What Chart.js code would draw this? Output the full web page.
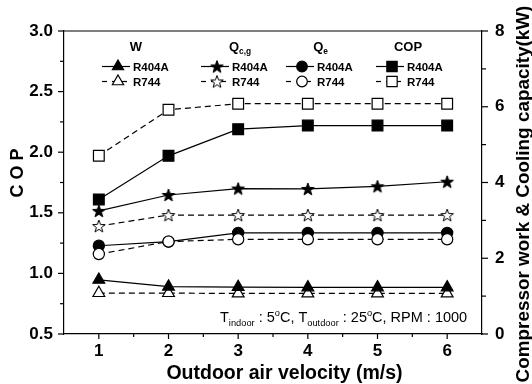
<!DOCTYPE html>
<html>
<head>
<meta charset="utf-8">
<script src="https://cdn.jsdelivr.net/npm/chart.js@4.4.0/dist/chart.umd.min.js"></script>
<style>
  html, body { margin: 0; padding: 0; background: #fff; }
  #chart { display: block; }
</style>
</head>
<body>
<canvas id="chart" width="532" height="384"></canvas>
<script>
// values (W, Qc,g, Qe on the kW axis, COP on the left axis)
const velocity = [1, 2, 3, 4, 5, 6]
const wR404A = [1.43, 1.25, 1.24, 1.23, 1.23, 1.23]
const wR744 = [1.08, 1.08, 1.07, 1.07, 1.07, 1.07]
const qcgR404A = [3.25, 3.67, 3.84, 3.83, 3.9, 4.02]
const qcgR744 = [2.85, 3.14, 3.14, 3.14, 3.14, 3.14]
const qeR404A = [2.33, 2.44, 2.67, 2.67, 2.67, 2.67]
const qeR744 = [2.11, 2.44, 2.5, 2.5, 2.5, 2.5]
const copR404A = [1.61, 1.97, 2.19, 2.22, 2.22, 2.22]
const copR744 = [1.97, 2.35, 2.4, 2.4, 2.4, 2.4]

const xTicks = [1, 2, 3, 4, 5, 6]
const copTicks = [0.5, 1.0, 1.5, 2.0, 2.5, 3.0]
const capTicks = [0, 2, 4, 6, 8]

const FONT = '"Liberation Sans", Arial, sans-serif'

const makeStar = (fill) => {
  const c = document.createElement('canvas')
  c.width = 16
  c.height = 16
  const g = c.getContext('2d')
  g.beginPath()
  for (let i = 0; i < 10; i++) {
    const r = i % 2 ? 2.7 : 6.6
    const a = -Math.PI / 2 + (i * Math.PI) / 5
    g.lineTo(8 + r * Math.cos(a), 8.6 + r * Math.sin(a))
  }
  g.closePath()
  g.fillStyle = fill
  g.fill()
  g.lineWidth = 1
  g.strokeStyle = '#000'
  g.stroke()
  return c
}
const starFilled = makeStar('#000')
const starOpen = makeStar('#fff')

const series = (label, values, axis, style, filled, radius) => ({
  label,
  data: velocity.map((v, i) => ({ x: v, y: values[i] })),
  yAxisID: axis,
  borderColor: '#000',
  borderWidth: 1.2,
  borderDash: filled ? [] : [6, 4],
  pointStyle: style,
  pointRadius: radius,
  pointBackgroundColor: filled ? '#000' : '#fff',
  pointBorderColor: '#000',
  pointBorderWidth: 1.2,
  tension: 0,
  fill: false,
})

const datasets = [
  series('W R404A', wR404A, 'cap', 'triangle', true, 6.8),
  series('W R744', wR744, 'cap', 'triangle', false, 6.8),
  series('Qcg R404A', qcgR404A, 'cap', starFilled, true, 7),
  series('Qcg R744', qcgR744, 'cap', starOpen, false, 7),
  series('Qe R744', qeR744, 'cap', 'circle', false, 5.6),
  series('Qe R404A', qeR404A, 'cap', 'circle', true, 5.6),
  series('COP R404A', copR404A, 'cop', 'rect', true, 7.6),
  series('COP R744', copR744, 'cop', 'rect', false, 7.6),
]

// legend columns: header, subscript, marker x, header centre
const legendCols = [
  { head: 'W', sub: '', mx: 118, hx: 136, style: 'triangle', r: 6.5 },
  { head: 'Q', sub: 'c,g', mx: 217, hx: 240, style: 'star', r: 7 },
  { head: 'Q', sub: 'e', mx: 302, hx: 320.5, style: 'circle', r: 5.3 },
  { head: 'COP', sub: '', mx: 392, hx: 408, style: 'rect', r: 7.3 },
]

const drawMarker = (ctx, style, filled, r, x, y) => {
  if (style === 'star') {
    const img = filled ? starFilled : starOpen
    ctx.drawImage(img, x - img.width / 2, y - img.height / 2)
    return
  }
  ctx.beginPath()
  if (style === 'triangle') {
    ctx.moveTo(x, y - r)
    ctx.lineTo(x + 0.866 * r, y + 0.5 * r)
    ctx.lineTo(x - 0.866 * r, y + 0.5 * r)
    ctx.closePath()
  } else if (style === 'circle') {
    ctx.arc(x, y, r, 0, Math.PI * 2)
  } else {
    const s = r * Math.SQRT1_2
    ctx.rect(x - s, y - s, 2 * s, 2 * s)
  }
  ctx.fillStyle = filled ? '#000' : '#fff'
  ctx.fill()
  ctx.lineWidth = 1.2
  ctx.strokeStyle = '#000'
  ctx.setLineDash([])
  ctx.stroke()
}

const drawTicks = (ctx, scale, majors, horizontal, base, dir, majorLen, minorLen) => {
  const minors = majors.slice(1).map((v, i) => (v + majors[i]) / 2)
  const mark = (v, len) => {
    const p = scale.getPixelForValue(v)
    ctx.beginPath()
    if (horizontal) {
      ctx.moveTo(p, base)
      ctx.lineTo(p, base + dir * len)
    } else {
      ctx.moveTo(base, p)
      ctx.lineTo(base + dir * len, p)
    }
    ctx.stroke()
  }
  majors.forEach((v) => mark(v, majorLen))
  minors.forEach((v) => mark(v, minorLen))
}

// text runs with sub/superscripts
const drawRuns = (ctx, runs, x, y, size, weight) => {
  runs.forEach(([text, kind]) => {
    const s = kind ? size * 0.64 : size
    ctx.font = `${weight} ${s}px ${FONT}`
    const dy = kind === 'sub' ? size * 0.3 : kind === 'sup' ? -size * 0.42 : 0
    ctx.fillText(text, x, y + dy)
    x += ctx.measureText(text).width
  })
  return x
}
const runsWidth = (ctx, runs, size, weight) => {
  let w = 0
  runs.forEach(([text, kind]) => {
    ctx.font = `${weight} ${kind ? size * 0.64 : size}px ${FONT}`
    w += ctx.measureText(text).width
  })
  return w
}

const decor = {
  id: 'decor',
  afterDraw(chart) {
    const { ctx, chartArea: a, scales } = chart
    ctx.save()
    ctx.strokeStyle = '#000'
    ctx.fillStyle = '#000'
    ctx.lineWidth = 1.2
    ctx.setLineDash([])

    ctx.beginPath()
    ctx.moveTo(a.left, a.top)
    ctx.lineTo(a.right, a.top)
    ctx.stroke()

    drawTicks(ctx, scales.x, xTicks, true, a.bottom, 1, 5, 3)
    drawTicks(ctx, scales.cop, copTicks, false, a.left, -1, 6, 4)
    drawTicks(ctx, scales.cap, capTicks, false, a.right, 1, 6, 4)

    // axis titles
    ctx.textBaseline = 'alphabetic'
    ctx.textAlign = 'center'
    ctx.font = `bold 19.5px ${FONT}`
    ctx.fillText('Outdoor air velocity (m/s)', 284.5, 379)

    ctx.save()
    ctx.translate(23, 173)
    ctx.rotate(-Math.PI / 2)
    ctx.font = `bold 18px ${FONT}`
    ctx.fillText('C O P', 0, 0)
    ctx.restore()

    ctx.save()
    ctx.translate(528.5, 194)
    ctx.rotate(-Math.PI / 2)
    ctx.font = `bold 18.9px ${FONT}`
    ctx.fillText('Compressor work & Cooling capacity(kW)', 0, 0)
    ctx.restore()

    // legend
    ctx.textAlign = 'left'
    legendCols.forEach((col) => {
      const head = [[col.head]]
      if (col.sub) head.push([col.sub, 'sub'])
      const hw = runsWidth(ctx, head, 13, 'bold')
      drawRuns(ctx, head, col.hx - hw / 2, 50.5, 13, 'bold')

      const rows = [
        { y: 66.5, base: 71, name: 'R404A', filled: true },
        { y: 81.5, base: 85.5, name: 'R744', filled: false },
      ]
      rows.forEach((row) => {
        ctx.lineWidth = 1.2
        ctx.setLineDash(row.filled ? [] : [5, 5])
        ctx.beginPath()
        ctx.moveTo(col.mx - 16, row.y)
        ctx.lineTo(col.mx + 12, row.y)
        ctx.stroke()
        ctx.setLineDash([])
        drawMarker(ctx, col.style, row.filled, col.r, col.mx, row.y)
        ctx.fillStyle = '#000'
        ctx.font = `bold 11.5px ${FONT}`
        ctx.fillText(row.name, col.mx + 15, row.base)
      })
    })

    // test conditions
    drawRuns(
      ctx,
      [
        ['T'], ['indoor', 'sub'], [' : 5'], ['o', 'sup'], ['C, T'], ['outdoor', 'sub'],
        [' : 25'], ['o', 'sup'], ['C, RPM : 1000'],
      ],
      220, 322, 14.5, 'normal'
    )
    ctx.restore()
  },
}

const tickFont = { family: FONT, size: 17, weight: 'bold' }

new Chart(document.getElementById('chart'), {
  type: 'line',
  data: { datasets },
  options: {
    responsive: false,
    animation: false,
    devicePixelRatio: 1,
    layout: { padding: { top: 31, left: 0, right: 0, bottom: 0 } },
    plugins: { legend: { display: false }, tooltip: { enabled: false } },
    scales: {
      x: {
        type: 'linear',
        min: 0.5,
        max: 6.5,
        afterBuildTicks: (s) => {
          s.ticks = xTicks.map((v) => ({ value: v }))
        },
        afterFit: (s) => {
          s.height = 50
        },
        ticks: { font: tickFont, color: '#000', padding: 7 },
        grid: { drawOnChartArea: false, drawTicks: false },
        border: { color: '#000', width: 1.2 },
      },
      cop: {
        type: 'linear',
        position: 'left',
        min: 0.5,
        max: 3.0,
        afterBuildTicks: (s) => {
          s.ticks = copTicks.map((v) => ({ value: v }))
        },
        afterFit: (s) => {
          s.width = 64
        },
        ticks: { font: tickFont, color: '#000', padding: 11, callback: (v) => v.toFixed(1) },
        grid: { drawOnChartArea: false, drawTicks: false },
        border: { color: '#000', width: 1.2 },
      },
      cap: {
        type: 'linear',
        position: 'right',
        min: 0,
        max: 8,
        afterBuildTicks: (s) => {
          s.ticks = capTicks.map((v) => ({ value: v }))
        },
        afterFit: (s) => {
          s.width = 50
        },
        ticks: { font: tickFont, color: '#000', padding: 13 },
        grid: { drawOnChartArea: false, drawTicks: false },
        border: { color: '#000', width: 1.2 },
      },
    },
  },
  plugins: [decor],
})
</script>
</body>
</html>
